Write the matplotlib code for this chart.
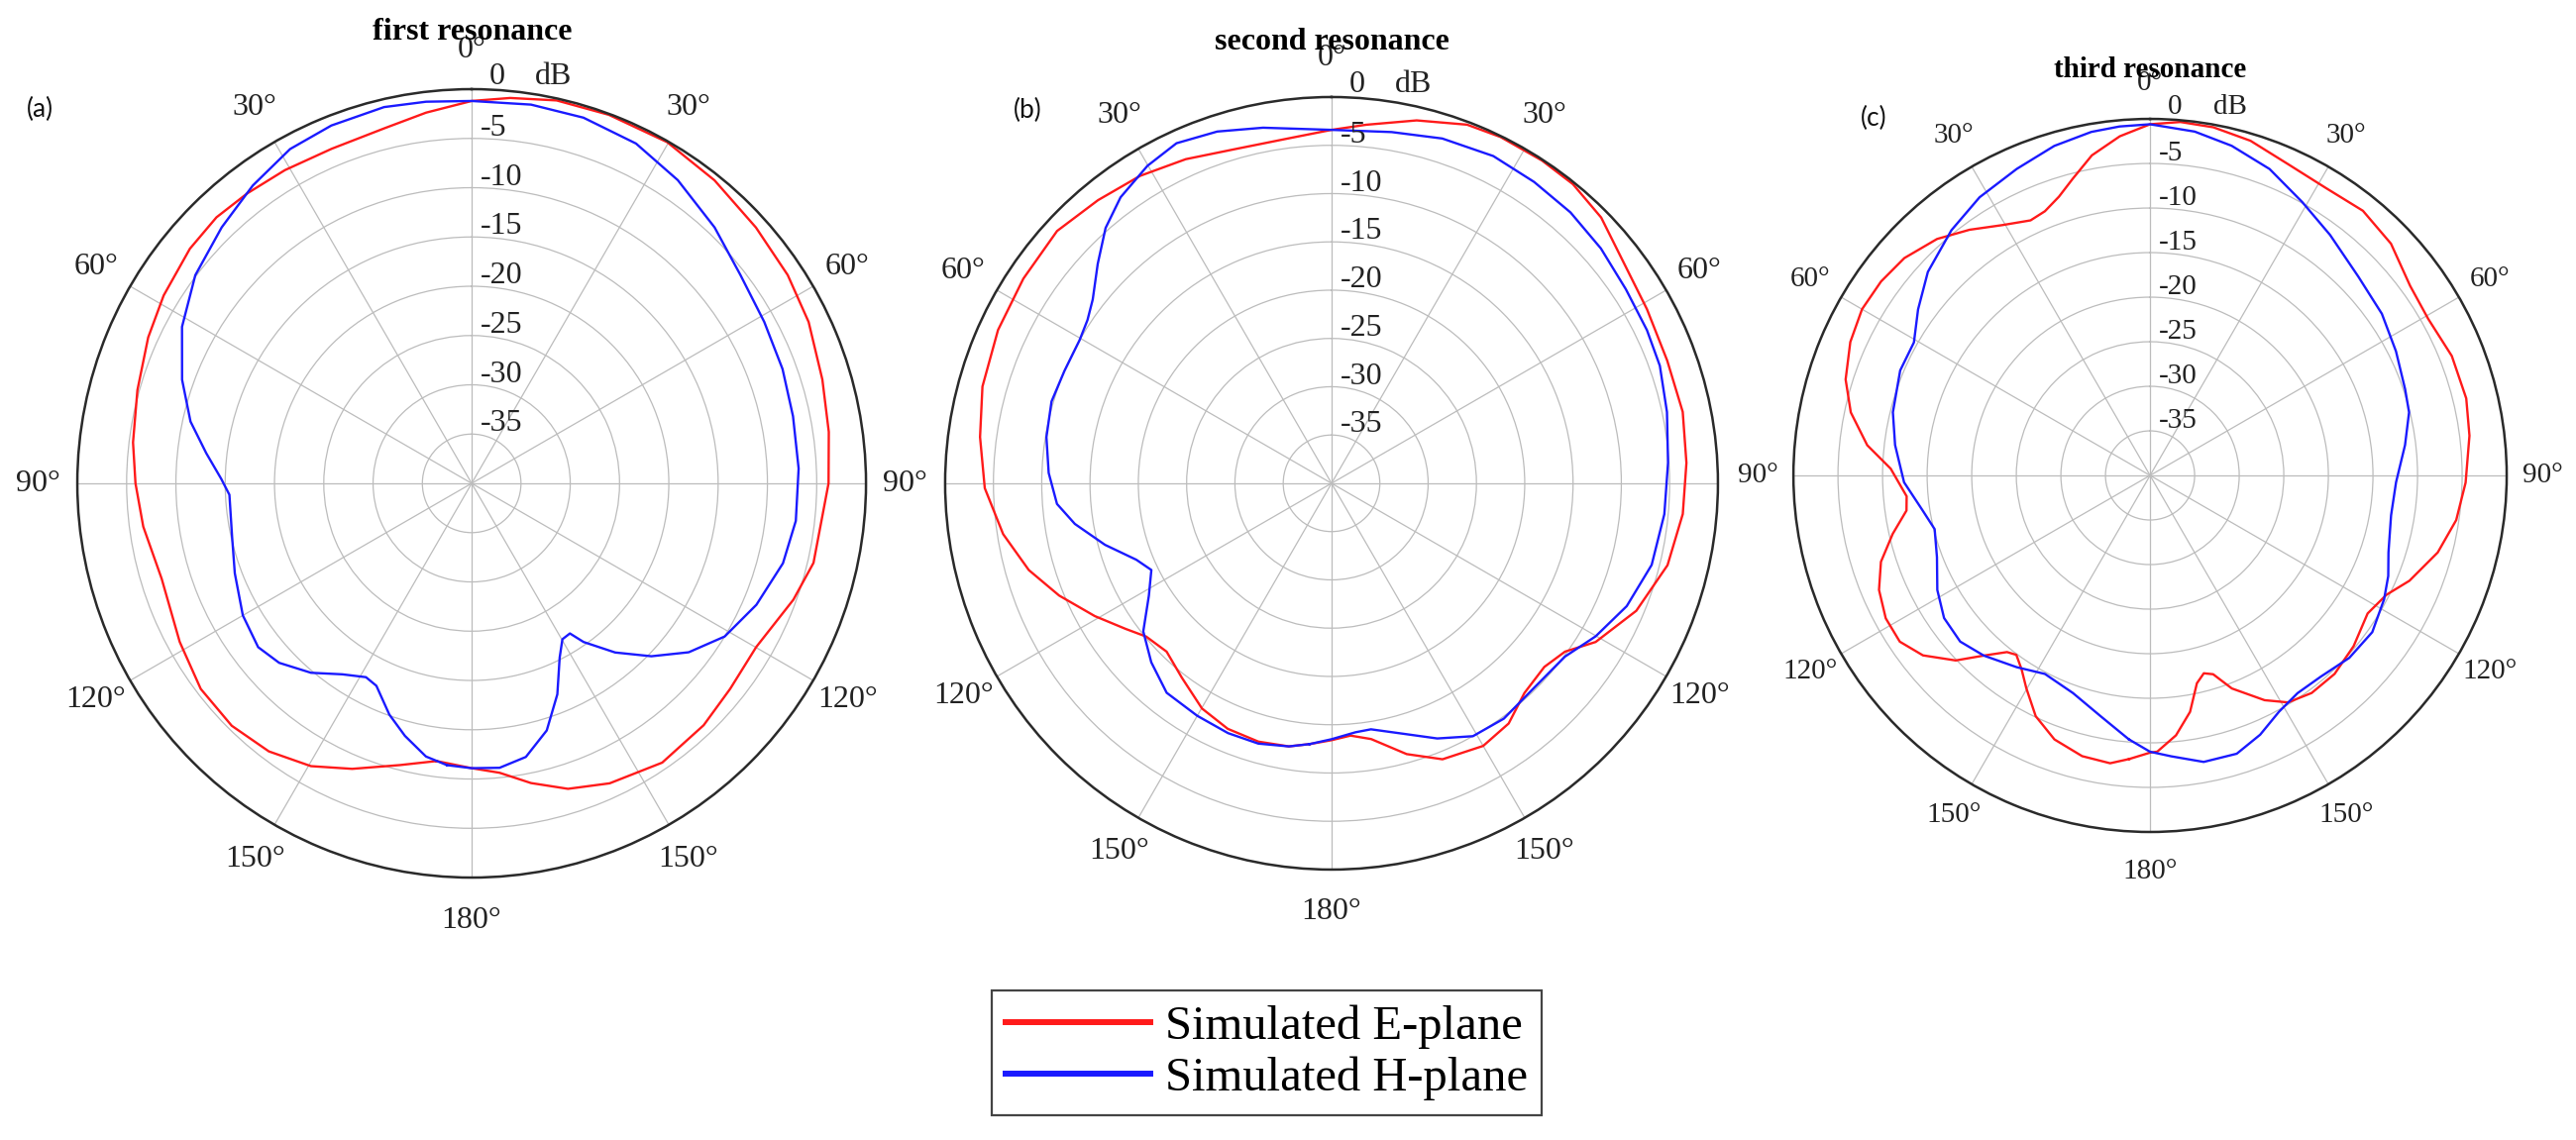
import matplotlib.pyplot as plt
import numpy as np
from matplotlib.lines import Line2D

# angles in degrees, 0 = top, positive = clockwise (right side); values in dB
a_e_ang = [-172.8, -165.7, -157.3, -150.4, -142.9, -135.3, -127.2, -118.5, -107.1, -97.5,
           -90, -83.1, -74.4, -65.7, -58.6, -50.2, -43.8, -37.7, -30.8, -22.7,
           -13.8, -7.0, 0, 5.7, 12.5, 20.4, 29.8, 38.7, 48, 56.6,
           64.4, 73.5, 81.8, 90, 103.1, 109.9, 119.9, 128.5, 136.2, 145.7,
           155.3, 162.5, 168.8, 174.5, 180]
a_e_db = [-11.6, -10.5, -8.6, -7.0, -5.9, -5.4, -5.5, -6.3, -7.1, -6.4,
          -5.9, -5.4, -4.8, -4.0, -3.4, -2.8, -2.6, -2.8, -3.0, -3.2,
          -2.9, -2.1, -1.2, -0.7, -0.2, -0.1, -0.1, -0.6, -1.2, -1.6,
          -2.1, -2.9, -3.4, -3.8, -4.4, -5.3, -6.7, -6.5, -6.0, -5.7,
          -6.5, -7.5, -9.0, -10.5, -11.1]

a_h_ang = [-175, -170.5, -165.2, -160.4, -154.8, -151.4, -145.9, -139.7, -133, -127.5,
           -120, -110.8, -102.6, -92.7, -89, -83.5, -77.6, -70.3, -61.6, -53,
           -44.3, -36.3, -28.5, -21.4, -13.1, -6.8, 0, 8.9, 17, 25.8,
           34.2, 43.5, 52.2, 61.1, 69.8, 78.2, 87.4, 96.6, 104.4, 113.1,
           121.2, 127.9, 133.9, 139.7, 144.8, 146.8, 149.8, 153.2, 157.9, 163.1,
           168.8, 174.4, 180]
a_h_db = [-11.3, -11.9, -13.5, -15.1, -17.3, -17.6, -16.6, -14.8, -13.3, -12.7,
          -13.2, -14.3, -15.1, -15.4, -14.6, -12.9, -10.8, -8.8, -6.6, -4.9,
          -3.7, -2.5, -1.4, -1.0, -0.8, -1.0, -1.2, -1.1, -1.2, -1.7,
          -2.8, -4.2, -5.5, -6.1, -6.4, -6.7, -6.8, -6.9, -7.4, -8.6,
          -10.0, -12.1, -14.7, -17.5, -20.3, -21.8, -21.7, -20.2, -16.9, -13.8,
          -11.7, -11.0, -11.1]

b_e_ang = [-175.2, -170.8, -164.2, -157.1, -150.1, -142.4, -135.6, -129.6, -125.3, -119.3,
           -112.4, -106, -98.8, -90.8, -82.5, -74.5, -65.3, -56.4, -47.4, -39.5,
           -31.9, -24.2, -15.7, -7.0, 0, 5.5, 13.2, 20.7, 26, 33.1,
           38.9, 45.4, 52.2, 61.1, 69.9, 78.5, 86.7, 95, 103.7, 112.7,
           121, 125.8, 130.8, 137.4, 143.6, 150, 158.1, 164.5, 171.2, 175.7,
           180]
b_e_db = [-12.9, -12.4, -12.2, -12.4, -13.1, -14.6, -15.6, -15.1, -13.9, -11.9,
          -9.5, -7.4, -5.6, -4.1, -3.3, -2.5, -2.0, -1.7, -1.4, -2.0,
          -2.5, -3.2, -4.0, -4.0, -3.4, -2.7, -1.4, -0.3, -0.1, -0.1,
          -0.2, -0.8, -2.0, -2.7, -3.0, -2.9, -3.2, -3.5, -4.2, -5.8,
          -8.1, -10.2, -10.9, -10.5, -9.1, -8.6, -9.2, -10.9, -13.2, -13.8,
          -13.4]

b_h_ang = [-175.2, -170.8, -164.3, -157.5, -150, -141.8, -134.8, -128.2, -121.6, -115.7,
           -111.4, -105.2, -99, -94.3, -87.9, -80.8, -73.7, -67.2, -60.4, -56.2,
           -52.4, -46.8, -41.5, -36.4, -30.1, -24.5, -18, -10.9, 0, 9.7,
           17.8, 26.3, 33.9, 41.4, 48.9, 56.6, 64.1, 70.3, 78, 86.5,
           95.3, 104.3, 112.6, 120.1, 126.6, 135.2, 143.8, 150.8, 157.5, 164.4,
           170.9, 174.5, 180]
b_h_db = [-12.9, -12.4, -12.0, -12.0, -12.2, -12.4, -13.7, -15.2, -17.8, -19.3,
          -18.3, -15.7, -13.1, -11.5, -10.7, -10.1, -9.8, -10.0, -10.0, -9.6,
          -8.8, -6.8, -4.7, -3.2, -2.0, -1.3, -1.7, -2.5, -3.4, -3.1,
          -2.5, -2.2, -2.4, -2.6, -3.0, -3.5, -3.7, -3.9, -4.5, -5.1,
          -5.4, -5.8, -6.9, -8.4, -9.9, -10.2, -9.8, -10.0, -11.4, -13.1,
          -14.2, -14.1, -13.5]

c_e_ang = [-175.8, -172.1, -166.4, -160.1, -154.6, -149.8, -146.5, -143.3, -141, -137.3,
           -133.6, -128.4, -123.6, -118.4, -112.9, -107.8, -102.8, -98.2, -94.9, -88.5,
           -83.9, -78.1, -72.5, -66, -60, -54.2, -48.5, -42, -36.3, -30.5,
           -25.1, -21.7, -18.1, -14.6, -10.3, -5.1, 0, 4.9, 10.3, 16.7,
           23.9, 31.4, 38.8, 46.1, 53.9, 60.6, 68.4, 76.3, 82.9, 91.3,
           98.3, 105, 112.1, 116.8, 122.4, 130, 137.1, 143.4, 148.7, 153,
           159, 162.4, 164.8, 167.3, 170.4, 174.3, 178.5, 180]
c_e_db = [-8.1, -7.4, -7.6, -8.5, -10.1, -12.4, -13.9, -14.9, -14.5, -12.5,
          -9.9, -7.5, -6.3, -6.3, -7.0, -8.3, -10.4, -12.4, -12.6, -10.9,
          -8.1, -5.7, -4.2, -3.2, -2.7, -2.8, -3.2, -4.3, -5.8, -7.4,
          -8.4, -8.1, -7.1, -5.6, -3.5, -1.8, -0.6, -0.2, -0.3, -0.8,
          -1.8, -2.2, -1.9, -2.5, -3.9, -4.2, -3.6, -3.5, -3.9, -4.6,
          -5.3, -6.6, -8.6, -10.3, -11.1, -10.2, -9.6, -9.6, -10.2, -11.7,
          -14.4, -16.6, -17.0, -16.1, -13.1, -10.7, -9.0, -8.9]

c_h_ang = [-175.4, -168.5, -160.5, -152.1, -145.2, -137.3, -131.2, -124.7, -118.3, -111,
           -104, -98.8, -91.6, -83.2, -76.2, -67.2, -60.6, -54.4, -47.5, -39,
           -31.5, -23.5, -16.2, -9.7, -5, 0, 7.4, 13.9, 21.3, 29.1,
           36.8, 46.3, 55.1, 63.2, 71.3, 76.3, 83.2, 91.6, 99.4, 107.9,
           112.9, 117.9, 125.2, 132.5, 139.7, 145.9, 151.4, 157, 162.7, 169.4,
           175.7, 180]
c_h_db = [-10.3, -12.4, -14.1, -14.8, -13.8, -12.5, -11.7, -11.9, -12.9, -14.4,
          -15.1, -14.2, -12.4, -11.2, -10.3, -9.6, -9.6, -8.0, -6.2, -4.6,
          -3.4, -2.5, -1.5, -0.9, -0.7, -0.6, -1.1, -1.9, -3.1, -4.9,
          -6.3, -7.7, -8.3, -9.1, -9.8, -10.1, -11.2, -12.4, -12.6, -11.9,
          -11.0, -10.3, -9.5, -9.7, -10.4, -10.5, -9.8, -8.4, -7.3, -7.3,
          -8.4, -9.0]

titles = ["first resonance", "second resonance", "third resonance"]
tags = ["(a)", "(b)", "(c)"]
ring_vals = [-35, -30, -25, -20, -15, -10, -5]
angle_ticks = [0, 30, 60, 90, 120, 150, 180, 210, 240, 270, 300, 330]
angle_names = ["0°", "30°", "60°", "90°", "120°", "150°", "180°",
               "150°", "120°", "90°", "60°", "30°"]

serif = "Liberation Serif"

fig = plt.figure(figsize=(26, 11.51), dpi=100)

# [left, bottom, width, height], font size, data, angle labels to skip
# (the 90° labels of the middle plot coincide with its neighbours' ones)
panels = [
    ([0.0300, 0.2302, 0.3062, 0.6916], 23, a_e_ang, a_e_db, a_h_ang, a_h_db, []),
    ([0.3669, 0.2372, 0.3000, 0.6777], 23, b_e_ang, b_e_db, b_h_ang, b_h_db, [90, 270]),
    ([0.6962, 0.2702, 0.2769, 0.6255], 21, c_e_ang, c_e_db, c_h_ang, c_h_db, []),
]


def closed(ang, val):
    t = np.deg2rad(np.array(ang + [ang[0] + 360.0]))
    r = np.array(val + [val[0]])
    return t, r


for i, (rect, fs, ea, ev, ha, hv, skip) in enumerate(panels):
    ax = fig.add_axes(rect, projection="polar")
    ax.set_theta_zero_location("N")
    ax.set_theta_direction(-1)
    ax.set_ylim(-40, 0)
    ax.set_xticks(np.deg2rad(angle_ticks))
    ax.set_xticklabels([])
    ax.set_yticks(ring_vals)
    ax.set_yticklabels([])
    ax.grid(True, color="#bcbcbc", linewidth=0.9)
    ax.spines["polar"].set_color("#2a2a2a")
    ax.spines["polar"].set_linewidth(1.8)

    t, r = closed(ea, ev)
    ax.plot(t, r, color="#ff1a1a", linewidth=1.7)
    t, r = closed(ha, hv)
    ax.plot(t, r, color="#1a1aff", linewidth=1.7)

    # angle labels
    for a, name in zip(angle_ticks, angle_names):
        if a in skip:
            continue
        rr = 4.0 if a != 180 else 4.4
        ax.text(np.deg2rad(a), rr, name, ha="center", va="center",
                fontsize=fs, family=serif, color="#222222", clip_on=False)

    # radial labels
    for v in ring_vals:
        ax.annotate(str(v), xy=(0, v), xytext=(6.5, 7.5), textcoords="offset points",
                    ha="left", va="center", fontsize=fs, family=serif, color="#222222")
    ax.annotate("0", xy=(0, 0), xytext=(13, 9), textcoords="offset points",
                ha="left", va="center", fontsize=fs, family=serif, color="#222222",
                annotation_clip=False)
    ax.annotate("dB", xy=(0, 0), xytext=(46, 9), textcoords="offset points",
                ha="left", va="center", fontsize=fs, family=serif, color="#222222",
                annotation_clip=False)

# titles and panel tags (pixel positions converted to figure fractions)
W, H = 2600, 1151
title_pos = [(477, 33), (1344, 43), (2170, 71)]
title_fs = [23, 23, 21]
tag_pos = [(40, 110), (1037, 111), (1891, 119)]
for k in range(3):
    x, y = title_pos[k]
    fig.text(x / W, 1 - y / H, titles[k], ha="center", va="center",
             fontsize=title_fs[k], family=serif, fontweight="bold")
    x, y = tag_pos[k]
    fig.text(x / W, 1 - y / H, tags[k], ha="center", va="center",
             fontsize=19, family="Lato", color="#111111")

handles = [Line2D([], [], color="#ff1a1a", linewidth=4.3),
           Line2D([], [], color="#1a1aff", linewidth=4.3)]
leg = fig.legend(handles, ["Simulated E-plane", "Simulated H-plane"],
                 loc="center", bbox_to_anchor=(0.4917, 0.0765),
                 prop={"family": serif, "size": 35}, fancybox=False,
                 edgecolor="#444444", framealpha=1, handlelength=3.0,
                 handletextpad=0.3, borderpad=0.3, labelspacing=0.15,
                 borderaxespad=0)
leg.get_frame().set_linewidth(1.6)

fig.savefig("out.png", dpi=100)
